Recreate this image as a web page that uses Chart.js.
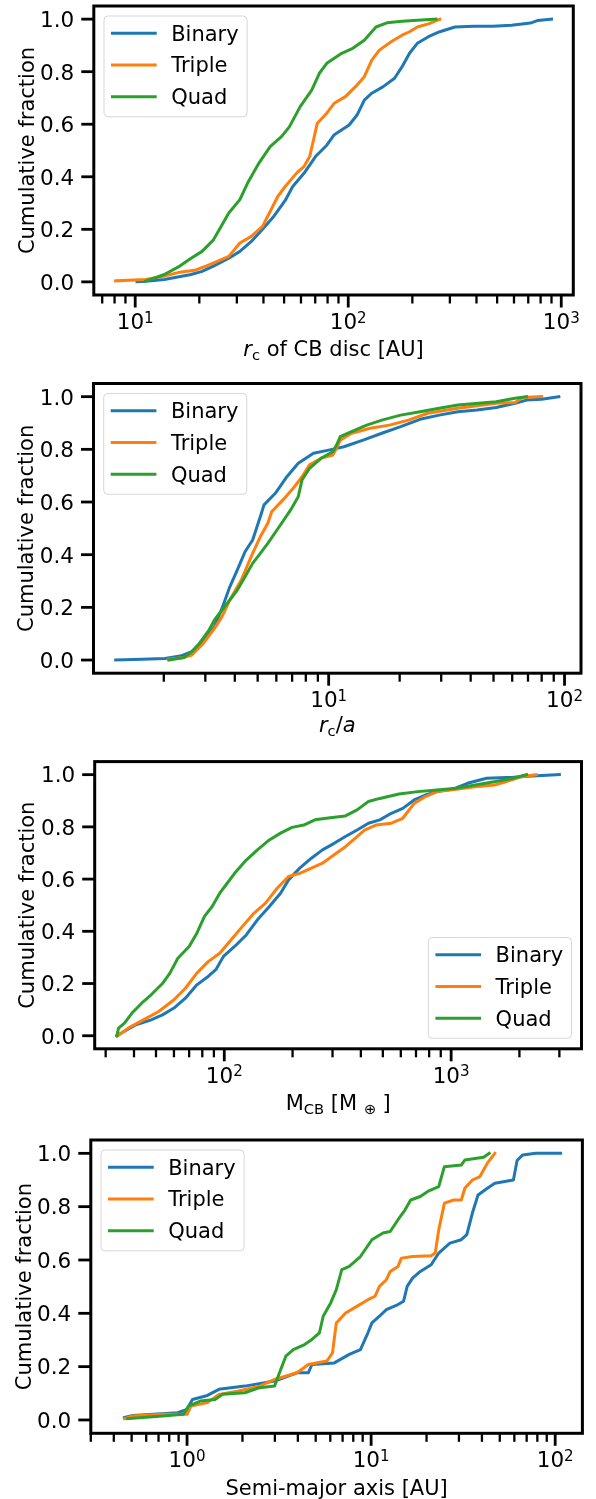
<!DOCTYPE html>
<html>
<head>
<meta charset="utf-8">
<script src="https://cdn.jsdelivr.net/npm/chart.js@4.4.0/dist/chart.umd.min.js"></script>
<style>
  body { margin: 0; background: #fff; }
  #wrap { position: relative; width: 596px; height: 1499px; }
  canvas { position: absolute; left: 0; }
</style>
</head>
<body>
<div id="wrap">
  <canvas id="c1" width="596" height="370" style="top:0px"></canvas>
  <canvas id="c2" width="596" height="375" style="top:370px"></canvas>
  <canvas id="c3" width="596" height="375" style="top:745px"></canvas>
  <canvas id="c4" width="596" height="379" style="top:1120px"></canvas>
</div>
<script>
const seriesNames = ["Binary", "Triple", "Quad"];
const seriesColors = ["#1f77b4", "#ff7f0e", "#2ca02c"];
const yTicks = [0, 0.2, 0.4, 0.6, 0.8, 1.0];
const yTitle = "Cumulative fraction";

// panel 1: r_c of CB disc [AU]
const rcBinary = [[10.2,0.001],[11.2,0.002],[13.7,0.009],[18.3,0.028],[20.6,0.040],[23.3,0.060],[27.5,0.090],[31.0,0.116],[35.1,0.154],[39.6,0.200],[44.8,0.250],[50.6,0.310],[54.9,0.363],[62.1,0.414],[70.2,0.477],[79.3,0.520],[86.0,0.560],[101,0.597],[110,0.635],[119,0.692],[129,0.718],[146,0.743],[165,0.775],[179,0.819],[194,0.870],[211,0.908],[238,0.933],[269,0.952],[317,0.970],[388,0.973],[476,0.973],[584,0.977],[716,0.985],[777,0.995],[900,1.0]];
const rcTriple = [[8.09,0.004],[11.2,0.009],[13.7,0.022],[16.2,0.037],[19.0,0.044],[21.5,0.060],[24.3,0.078],[27.5,0.097],[31.0,0.148],[35.1,0.173],[39.6,0.211],[43.0,0.268],[46.7,0.325],[50.6,0.363],[57.2,0.414],[62.1,0.440],[65.9,0.477],[68.7,0.540],[71.6,0.604],[79.3,0.642],[86.0,0.680],[97.3,0.706],[110,0.749],[119,0.781],[129,0.844],[140,0.882],[159,0.914],[179,0.939],[194,0.952],[211,0.970],[238,0.982],[269,1.0]];
const rcQuad = [[11.2,0.003],[13.7,0.028],[16.2,0.060],[18.3,0.090],[20.6,0.116],[23.3,0.160],[25.3,0.211],[27.5,0.262],[31.0,0.313],[33.7,0.376],[38.1,0.452],[43.0,0.515],[48.6,0.553],[52.9,0.590],[59.5,0.667],[67.4,0.730],[73.2,0.794],[79.3,0.832],[93.2,0.870],[105,0.889],[119,0.920],[135,0.970],[152,0.986],[179,0.992],[211,0.996],[258,1.0]];

// panel 2: r_c / a
const ratioBinary = [[1.25,0],[1.62,0.003],[2.02,0.006],[2.35,0.015],[2.63,0.032],[2.94,0.070],[3.28,0.127],[3.53,0.196],[3.81,0.278],[4.10,0.342],[4.42,0.411],[4.76,0.456],[5.13,0.544],[5.32,0.589],[5.94,0.633],[6.65,0.696],[7.43,0.747],[8.62,0.785],[10.0,0.797],[11.6,0.810],[14.0,0.835],[16.8,0.861],[20.2,0.886],[24.4,0.914],[29.4,0.930],[35.3,0.943],[42.6,0.949],[51.3,0.959],[61.7,0.975],[69.0,0.987],[80.0,0.990],[94.6,1.0]];
const ratioTriple = [[2.10,0.003],[2.44,0.010],[2.63,0.019],[2.94,0.063],[3.28,0.120],[3.53,0.165],[3.81,0.228],[4.26,0.304],[4.76,0.405],[5.13,0.468],[5.52,0.519],[5.73,0.563],[6.40,0.608],[7.16,0.658],[7.71,0.696],[8.30,0.741],[9.28,0.766],[10.4,0.778],[10.8,0.804],[11.2,0.835],[12.5,0.861],[15.0,0.880],[18.1,0.892],[21.8,0.911],[26.3,0.937],[35.3,0.956],[51.3,0.975],[61.7,0.978],[66.5,0.997],[80.0,1.0]];
const ratioQuad = [[2.10,0],[2.44,0.010],[2.63,0.032],[2.83,0.063],[3.11,0.114],[3.28,0.152],[3.53,0.190],[3.81,0.228],[4.10,0.266],[4.42,0.316],[4.76,0.367],[5.13,0.405],[5.52,0.443],[6.17,0.506],[6.90,0.570],[7.43,0.620],[7.71,0.684],[8.30,0.728],[9.28,0.766],[10.4,0.791],[10.8,0.816],[11.2,0.848],[12.5,0.867],[14.5,0.892],[16.8,0.911],[20.2,0.930],[24.4,0.943],[29.4,0.956],[35.3,0.968],[51.3,0.981],[61.7,0.994],[69.0,1.0]];

// panel 3: M_CB [M_earth]
const massBinary = [[33.6,0],[36.3,0.017],[40.8,0.042],[47.6,0.061],[53.4,0.080],[60.0,0.106],[67.4,0.144],[75.7,0.195],[84.9,0.227],[91.8,0.253],[99.2,0.304],[111,0.342],[125,0.386],[140,0.444],[158,0.495],[177,0.546],[192,0.597],[215,0.642],[242,0.680],[271,0.712],[305,0.737],[342,0.763],[385,0.788],[432,0.814],[485,0.827],[545,0.852],[612,0.871],[687,0.903],[771,0.922],[866,0.935],[1012,0.944],[1181,0.967],[1432,0.986],[1878,0.990],[2280,0.995],[3000,1.0]];
const massTriple = [[34.0,0],[37.7,0.029],[44.0,0.061],[51.4,0.093],[60.0,0.138],[67.4,0.182],[75.7,0.240],[84.9,0.284],[95.5,0.316],[107,0.367],[120,0.418],[135,0.469],[152,0.508],[171,0.565],[192,0.610],[215,0.622],[242,0.642],[271,0.661],[305,0.693],[342,0.724],[385,0.763],[415,0.788],[466,0.807],[545,0.814],[612,0.833],[687,0.890],[771,0.916],[866,0.935],[1052,0.944],[1276,0.954],[1549,0.960],[1738,0.973],[2030,0.992],[2370,1.0]];
const massQuad = [[33.6,0],[34.2,0.029],[36.3,0.048],[39.2,0.087],[44.0,0.131],[47.6,0.157],[53.4,0.200],[57.6,0.240],[62.4,0.297],[70.0,0.342],[75.7,0.393],[81.8,0.457],[88.4,0.495],[95.5,0.546],[103,0.584],[111,0.622],[125,0.673],[140,0.712],[158,0.750],[177,0.776],[199,0.798],[224,0.807],[251,0.827],[293,0.835],[342,0.842],[385,0.865],[432,0.897],[485,0.909],[589,0.926],[714,0.935],[866,0.941],[1052,0.948],[1276,0.960],[1549,0.973],[1878,0.986],[2151,1.0]];

// panel 4: semi-major axis [AU]
const smaBinary = [[0.457,0.009],[0.508,0.017],[0.890,0.027],[1.0,0.040],[1.07,0.077],[1.29,0.092],[1.49,0.115],[2.06,0.127],[2.99,0.146],[3.96,0.177],[4.56,0.177],[4.77,0.208],[6.31,0.214],[7.61,0.246],[8.75,0.264],[9.61,0.327],[10.1,0.364],[11.1,0.389],[12.1,0.414],[14.0,0.433],[15.0,0.445],[15.7,0.501],[16.8,0.532],[18.5,0.557],[21.2,0.582],[23.3,0.626],[26.8,0.663],[30.9,0.676],[33.1,0.695],[35.5,0.776],[38.1,0.844],[42.8,0.869],[47.0,0.888],[59.3,0.900],[62.1,0.973],[66.6,0.994],[78.5,1.0],[107,1.0]];
const smaTriple = [[0.457,0.005],[0.508,0.015],[0.738,0.021],[1.0,0.021],[1.05,0.052],[1.29,0.065],[1.49,0.096],[1.88,0.108],[2.48,0.127],[2.99,0.152],[3.96,0.177],[4.56,0.208],[5.75,0.221],[6.17,0.252],[6.47,0.364],[7.27,0.401],[8.36,0.426],[9.61,0.451],[10.5,0.464],[11.1,0.501],[12.1,0.526],[12.7,0.557],[14.0,0.576],[14.6,0.607],[16.8,0.613],[21.2,0.616],[22.3,0.626],[23.3,0.713],[25.0,0.813],[28.1,0.825],[30.9,0.825],[32.3,0.869],[35.5,0.900],[39.0,0.913],[42.8,0.963],[47.0,1.0]];
const smaQuad = [[0.474,0.005],[0.738,0.015],[0.954,0.021],[1.02,0.052],[1.18,0.071],[1.42,0.077],[1.56,0.096],[2.06,0.102],[2.48,0.121],[2.99,0.127],[3.13,0.165],[3.44,0.239],[3.78,0.264],[4.35,0.283],[4.77,0.302],[5.24,0.327],[5.49,0.389],[6.03,0.439],[6.47,0.489],[6.93,0.564],[7.61,0.576],[8.75,0.613],[10.1,0.676],[11.6,0.701],[12.7,0.707],[14.0,0.751],[15.3,0.788],[16.4,0.825],[18.5,0.838],[20.3,0.857],[23.3,0.875],[25.0,0.950],[30.9,0.956],[32.3,0.975],[40.8,0.985],[43.8,1.0]];

const FAM = "'DejaVu Sans', sans-serif";
const TFS = 21.5;   // tick labels
const FS = 21;      // legend text
const LFS = 21;     // axis label text
const LW = 3;       // curve width

// rich text: parts = {t, s (scale), it (italic), dy, pre, post}
function partFont(p, size) {
  return (p.it ? "italic " : "") + (size * (p.s || 1)) + "px " + FAM;
}
function drawRich(ctx, parts, x, y, size) {
  let w = 0;
  parts.forEach(p => {
    ctx.font = partFont(p, size);
    w += (p.pre || 0) + ctx.measureText(p.t).width + (p.post || 0);
  });
  let cx = x - w / 2;
  ctx.textAlign = "left";
  ctx.textBaseline = "alphabetic";
  parts.forEach(p => {
    ctx.font = partFont(p, size);
    cx += p.pre || 0;
    ctx.fillText(p.t, cx, y + (p.dy || 0));
    cx += ctx.measureText(p.t).width + (p.post || 0);
  });
}

function logTicks(min, max) {
  const out = [];
  const k0 = Math.floor(Math.log10(min)), k1 = Math.ceil(Math.log10(max));
  for (let k = k0; k <= k1; k++) {
    for (let m = 1; m <= 9; m++) {
      const v = m * Math.pow(10, k);
      if (v >= min && v <= max) out.push({ v: v, major: m === 1, k: k });
    }
  }
  return out;
}

// matplotlib-like 5% margins in log space
function logRange(series) {
  let lo = Infinity, hi = -Infinity;
  series.forEach(s => s.forEach(p => { lo = Math.min(lo, p[0]); hi = Math.max(hi, p[0]); }));
  const a = Math.log10(lo), b = Math.log10(hi), m = 0.05 * (b - a);
  return [Math.pow(10, a - m), Math.pow(10, b + m)];
}

function roundRect(ctx, x, y, w, h, r) {
  ctx.beginPath();
  ctx.moveTo(x + r, y);
  ctx.lineTo(x + w - r, y);
  ctx.arcTo(x + w, y, x + w, y + r, r);
  ctx.lineTo(x + w, y + h - r);
  ctx.arcTo(x + w, y + h, x + w - r, y + h, r);
  ctx.lineTo(x + r, y + h);
  ctx.arcTo(x, y + h, x, y + h - r, r);
  ctx.lineTo(x, y + r);
  ctx.arcTo(x, y, x + r, y, r);
  ctx.closePath();
}

function drawLegend(ctx, a, loc) {
  ctx.font = FS + "px " + FAM;
  let tw = 0;
  seriesNames.forEach(n => { tw = Math.max(tw, ctx.measureText(n).width); });
  const pad = 0.4 * FS, hl = 2 * FS, htp = 0.8 * FS;
  const w = 2 * pad + hl + htp + tw;
  const h = 2 * pad + 3 * FS + 2 * 0.5 * FS;
  const bx = loc === "lower right" ? a.right - 10 - w : a.left + 10.2;
  const by = loc === "lower right" ? a.bottom - 10.5 - h : a.top + 10;
  roundRect(ctx, bx, by, w, h, 4);
  ctx.fillStyle = "rgba(255,255,255,0.8)";
  ctx.fill();
  ctx.strokeStyle = "rgba(204,204,204,0.8)";
  ctx.lineWidth = 1;
  ctx.stroke();
  seriesNames.forEach((n, i) => {
    const ly = by + 17.3 + i * 31.7;
    ctx.strokeStyle = seriesColors[i];
    ctx.lineWidth = LW;
    ctx.lineCap = "butt";
    ctx.beginPath();
    ctx.moveTo(bx + 7, ly);
    ctx.lineTo(bx + 52.7, ly);
    ctx.stroke();
    ctx.fillStyle = "#000";
    ctx.textAlign = "left";
    ctx.textBaseline = "alphabetic";
    ctx.fillText(n, bx + pad + hl + htp, ly + 7.4);
  });
}

function makeAxes(cfg) {
  return {
    id: "mplAxes" + cfg.id,
    afterDraw(chart) {
      const ctx = chart.ctx, a = chart.chartArea;
      const xs = chart.scales.x, ys = chart.scales.y;
      ctx.save();
      drawLegend(ctx, a, cfg.legend);

      // frame
      ctx.strokeStyle = "#000";
      ctx.lineWidth = 3;
      ctx.lineCap = "butt";
      ctx.strokeRect(a.left, a.top, a.right - a.left, a.bottom - a.top);

      // y axis
      ctx.fillStyle = "#000";
      yTicks.forEach(v => {
        const py = ys.getPixelForValue(v);
        ctx.lineWidth = 2.8;
        ctx.beginPath();
        ctx.moveTo(a.left, py);
        ctx.lineTo(a.left - 12.5, py);
        ctx.stroke();
        ctx.font = TFS + "px " + FAM;
        ctx.textAlign = "right";
        ctx.textBaseline = "alphabetic";
        ctx.fillText(v.toFixed(1), a.left - 19.5, py + 0.3645 * TFS);
      });

      // x axis (log)
      logTicks(xs.min, xs.max).forEach(t => {
        const px = xs.getPixelForValue(t.v);
        ctx.lineWidth = t.major ? 2.8 : 2.3;
        ctx.beginPath();
        ctx.moveTo(px, a.bottom);
        ctx.lineTo(px, a.bottom + (t.major ? 12.5 : 8.5));
        ctx.stroke();
        if (t.major) {
          drawRich(ctx, [{ t: "10" }, { t: String(t.k), s: 0.7, dy: -0.3 * TFS }], px, a.bottom + 34, TFS);
        }
      });

      // axis titles
      drawRich(ctx, cfg.xTitle, (a.left + a.right) / 2, a.bottom + cfg.xTitleDy, LFS);
      ctx.save();
      ctx.translate(a.left - 60.3, (a.top + a.bottom) / 2);
      ctx.rotate(-Math.PI / 2);
      ctx.font = LFS + "px " + FAM;
      ctx.textAlign = "center";
      ctx.textBaseline = "alphabetic";
      ctx.fillText(yTitle, 0, 0);
      ctx.restore();
      ctx.restore();
    }
  };
}

const SUB = 0.2 * LFS;
const panels = [
  { id: 1, el: "c1", series: [rcBinary, rcTriple, rcQuad], legend: "upper left",
    pad: { left: 93.8, right: 22.7, top: 6, bottom: 75 }, xTitleDy: 61,
    xTitle: [{ t: "r", it: true }, { t: "c", s: 0.7, dy: SUB }, { t: " of CB disc [AU]" }] },
  { id: 2, el: "c2", series: [ratioBinary, ratioTriple, ratioQuad], legend: "upper left",
    pad: { left: 93.5, right: 15, top: 13.5, bottom: 71.8 }, xTitleDy: 58.5,
    xTitle: [{ t: "r", it: true }, { t: "c", s: 0.7, dy: SUB }, { t: "/" }, { t: "a", it: true }] },
  { id: 3, el: "c3", series: [massBinary, massTriple, massQuad], legend: "lower right",
    pad: { left: 94.7, right: 14.5, top: 16.6, bottom: 71.2 }, xTitleDy: 61.2,
    xTitle: [{ t: "M" }, { t: "CB", s: 0.7, dy: SUB }, { t: " [M" }, { t: "\u2295", s: 0.7, dy: SUB, pre: 7, post: 6 }, { t: "]" }] },
  { id: 4, el: "c4", series: [smaBinary, smaTriple, smaQuad], legend: "upper left",
    pad: { left: 90.8, right: 13.6, top: 20, bottom: 65.7 }, xTitleDy: 61.2,
    xTitle: [{ t: "Semi-major axis [AU]" }] }
];

panels.forEach(cfg => {
  const xr = logRange(cfg.series);
  new Chart(document.getElementById(cfg.el), {
    type: "line",
    data: {
      datasets: cfg.series.map((s, i) => ({
        label: seriesNames[i],
        data: s.map(p => ({ x: p[0], y: p[1] })),
        borderColor: seriesColors[i],
        borderWidth: LW,
        pointRadius: 0,
        tension: 0,
        fill: false,
        order: 3 - i,
        borderJoinStyle: "round",
        borderCapStyle: "square"
      }))
    },
    options: {
      responsive: false,
      animation: false,
      events: [],
      layout: { padding: cfg.pad },
      plugins: { legend: { display: false }, tooltip: { enabled: false } },
      scales: {
        x: { type: "logarithmic", display: false, min: xr[0], max: xr[1] },
        y: { type: "linear", display: false, min: -0.05, max: 1.05 }
      }
    },
    plugins: [makeAxes(cfg)]
  });
});
</script>
</body>
</html>
